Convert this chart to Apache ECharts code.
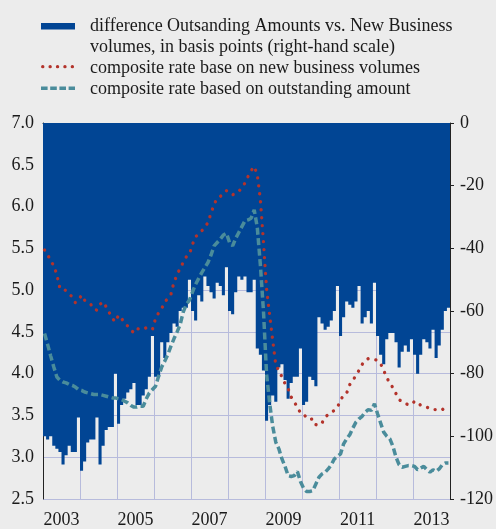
<!DOCTYPE html>
<html>
<head>
<meta charset="utf-8">
<script src="https://cdn.jsdelivr.net/npm/echarts@6/dist/echarts.min.js"></script>
<style>
  html, body { margin: 0; padding: 0; background: #ececec; }
  #chart { width: 496px; height: 529px; }
</style>
</head>
<body>
<div id="chart"></div>
<script>
// Monthly observations, January 2003 to December 2013
const firstYear = 2003;
const lastYear = 2013;

// Spread between outstanding-amount and new-business composite rates (basis points, right axis)
const spreadBp = [
  -100, -101, -100, -103, -104, -105, -109, -106, -103, -105, -105, -94,
  -111, -108, -102, -101, -101, -94, -109, -103, -98, -97, -97, -80,
  -96, -90, -88, -86, -85, -83, -90, -90, -87, -85, -81, -68,
  -81, -81, -70, -75, -70, -67, -64, -65, -60, -59, -59, -50,
  -60, -63, -55, -57, -49, -52, -54, -56, -51, -52, -55, -46,
  -60, -61, -54, -49, -50, -49, -54, -54, -50, -72, -74, -79,
  -95, -90, -87, -89, -78, -77, -82, -88, -83, -81, -81, -72,
  -90, -89, -81, -82, -84, -62, -64, -66, -65, -63, -60, -52,
  -68, -62, -57, -58, -59, -57, -52, -64, -62, -60, -64, -51,
  -68, -74, -77, -69, -67, -67, -70, -78, -73, -71, -73, -69,
  -74, -80, -74, -69, -70, -72, -66, -75, -71, -66, -60, -59
];

// Composite rate based on new business volumes (%, left axis)
const rateNewBusiness = [
  5.48, 5.43, 5.34, 5.30, 5.18, 5.02, 5.02, 4.99, 4.95, 4.92, 4.85, 4.88,
  4.94, 4.88, 4.85, 4.83, 4.77, 4.76, 4.83, 4.86, 4.80, 4.73, 4.66, 4.62,
  4.70, 4.66, 4.60, 4.57, 4.52, 4.49, 4.54, 4.53, 4.53, 4.55, 4.53, 4.53,
  4.66, 4.73, 4.78, 4.86, 4.90, 4.95, 5.10, 5.18, 5.27, 5.33, 5.40, 5.43,
  5.55, 5.64, 5.67, 5.71, 5.75, 5.81, 5.92, 6.03, 6.10, 6.12, 6.16, 6.19,
  6.16, 6.14, 6.16, 6.18, 6.23, 6.28, 6.36, 6.43, 6.48, 6.38, 6.08, 5.58,
  5.02, 4.70, 4.40, 4.10, 4.04, 3.96, 3.88, 3.82, 3.72, 3.66, 3.60, 3.53,
  3.52, 3.47, 3.45, 3.46, 3.39, 3.38, 3.41, 3.48, 3.51, 3.54, 3.56, 3.60,
  3.68, 3.75, 3.77, 3.87, 3.92, 3.98, 4.04, 4.11, 4.16, 4.18, 4.18, 4.17,
  4.16, 4.12, 4.04, 3.95, 3.89, 3.83, 3.76, 3.69, 3.66, 3.64, 3.63, 3.63,
  3.67, 3.66, 3.62, 3.61, 3.60, 3.58, 3.57, 3.57, 3.58, 3.58, 3.54, 3.51
];

// Composite rate based on outstanding amounts (%, left axis)
const rateOutstanding = [
  4.48, 4.35, 4.21, 4.08, 3.96, 3.92, 3.90, 3.89, 3.87, 3.86, 3.84, 3.81,
  3.80, 3.78, 3.77, 3.76, 3.75, 3.75, 3.75, 3.74, 3.73, 3.72, 3.71, 3.71,
  3.70, 3.69, 3.67, 3.65, 3.62, 3.60, 3.60, 3.61, 3.61, 3.70, 3.77, 3.81,
  3.85, 3.97, 4.08, 4.15, 4.23, 4.33, 4.42, 4.50, 4.59, 4.74, 4.83, 4.88,
  4.98, 5.07, 5.14, 5.21, 5.27, 5.33, 5.42, 5.53, 5.57, 5.61, 5.66, 5.68,
  5.57, 5.53, 5.62, 5.69, 5.76, 5.83, 5.84, 5.86, 5.96, 5.75, 5.30, 4.75,
  4.00, 3.65, 3.37, 3.18, 3.10, 2.98, 2.89, 2.78, 2.77, 2.78, 2.83, 2.71,
  2.63, 2.59, 2.59, 2.60, 2.68, 2.76, 2.80, 2.82, 2.86, 2.91, 2.98, 3.01,
  3.04, 3.16, 3.22, 3.27, 3.35, 3.42, 3.46, 3.49, 3.54, 3.57, 3.56, 3.64,
  3.52, 3.41, 3.30, 3.25, 3.22, 3.13, 3.00, 2.91, 2.88, 2.89, 2.90, 2.90,
  2.89, 2.85, 2.87, 2.89, 2.85, 2.82, 2.85, 2.83, 2.86, 2.91, 2.93, 2.93
];

const legendLabels = [
  'difference Outsanding Amounts vs. New Business',
  'volumes, in basis points (right-hand scale)',
  'composite rate base on new business volumes',
  'composite rate based on outstanding amount'
];

// Month categories "YYYY-MM"
const months = [];
for (let y = firstYear; y <= lastYear; y++) {
  for (let m = 1; m <= 12; m++) months.push(y + '-' + String(m).padStart(2, '0'));
}

const SERIF = '"Liberation Serif", "Times New Roman", serif';
const FONT_SIZE = 18;
const BLUE = '#014594';
const RED = '#b3332b';
const TEAL = '#4a8c9b';
const GRID = '#b7bbdc';
const AXIS = '#222222';
const TEXT = '#1a1a1a';

const chart = echarts.init(document.getElementById('chart'), null, { renderer: 'canvas' });

const legendText = (x, y, text) => ({
  type: 'text', x: x, y: y,
  style: { text: text, font: FONT_SIZE + 'px ' + SERIF, fill: TEXT, verticalAlign: 'middle', align: 'left' }
});

chart.setOption({
  backgroundColor: '#ececec',
  animation: false,
  grid: { left: 43, right: 45, top: 123, bottom: 27, containLabel: false },
  xAxis: {
    type: 'category',
    data: months,
    boundaryGap: true,
    axisLine: { show: true, lineStyle: { color: AXIS, width: 1 } },
    axisTick: { show: true, length: 5, interval: (i) => i % 12 === 0, lineStyle: { color: AXIS } },
    splitLine: { show: true, interval: (i) => i % 12 === 0, lineStyle: { color: GRID, width: 1 } },
    axisLabel: {
      interval: (i) => i % 24 === 6,
      formatter: (v) => v.slice(0, 4),
      fontFamily: SERIF, fontSize: FONT_SIZE, color: TEXT, margin: 12,
      padding: [0, 3, 0, 0]
    }
  },
  yAxis: [
    {
      type: 'value', position: 'left',
      min: 2.5, max: 7.0, interval: 0.5,
      axisLine: { show: true, lineStyle: { color: AXIS, width: 1 } },
      axisTick: { show: false },
      splitLine: { show: true, lineStyle: { color: GRID, width: 1 } },
      axisLabel: {
        formatter: (v) => v.toFixed(1),
        fontFamily: SERIF, fontSize: FONT_SIZE, color: TEXT, margin: 9
      }
    },
    {
      type: 'value', position: 'right',
      min: -120, max: 0, interval: 20,
      axisLine: { show: true, lineStyle: { color: AXIS, width: 1 } },
      axisTick: { show: true, length: 4, lineStyle: { color: AXIS } },
      splitLine: { show: false },
      axisLabel: { fontFamily: SERIF, fontSize: FONT_SIZE, color: TEXT, margin: 10 }
    }
  ],
  series: [
    {
      name: legendLabels[0],
      type: 'bar',
      yAxisIndex: 1,
      data: spreadBp,
      barCategoryGap: '0%',
      large: true,
      largeThreshold: 50,
      itemStyle: { color: BLUE },
      silent: true,
      z: 1
    },
    {
      name: legendLabels[2],
      type: 'line',
      yAxisIndex: 0,
      data: rateNewBusiness,
      showSymbol: false,
      symbol: 'none',
      lineStyle: { color: RED, width: 3.3, type: [0.1, 7.9], cap: 'round' },
      silent: true,
      z: 3
    },
    {
      name: legendLabels[3],
      type: 'line',
      yAxisIndex: 0,
      data: rateOutstanding,
      showSymbol: false,
      symbol: 'none',
      lineStyle: { color: TEAL, width: 3.5, type: [7, 3.5], cap: 'butt' },
      silent: true,
      z: 2
    }
  ],
  graphic: [
    { type: 'rect', x: 41, y: 23, shape: { width: 34, height: 6.5 }, style: { fill: BLUE } },
    {
      type: 'polyline', shape: { points: [[42.7, 66.7], [73.5, 66.7]] },
      style: { stroke: RED, lineWidth: 3.3, lineDash: [0.1, 7.3], lineCap: 'round', fill: null }
    },
    {
      type: 'polyline', shape: { points: [[41, 88.3], [75, 88.3]] },
      style: { stroke: TEAL, lineWidth: 3.5, lineDash: [6.6, 2.6], lineCap: 'butt', fill: null }
    },
    legendText(90, 26.5, legendLabels[0]),
    legendText(90, 47.5, legendLabels[1]),
    legendText(90, 68, legendLabels[2]),
    legendText(90, 89.5, legendLabels[3])
  ]
});
</script>
</body>
</html>
